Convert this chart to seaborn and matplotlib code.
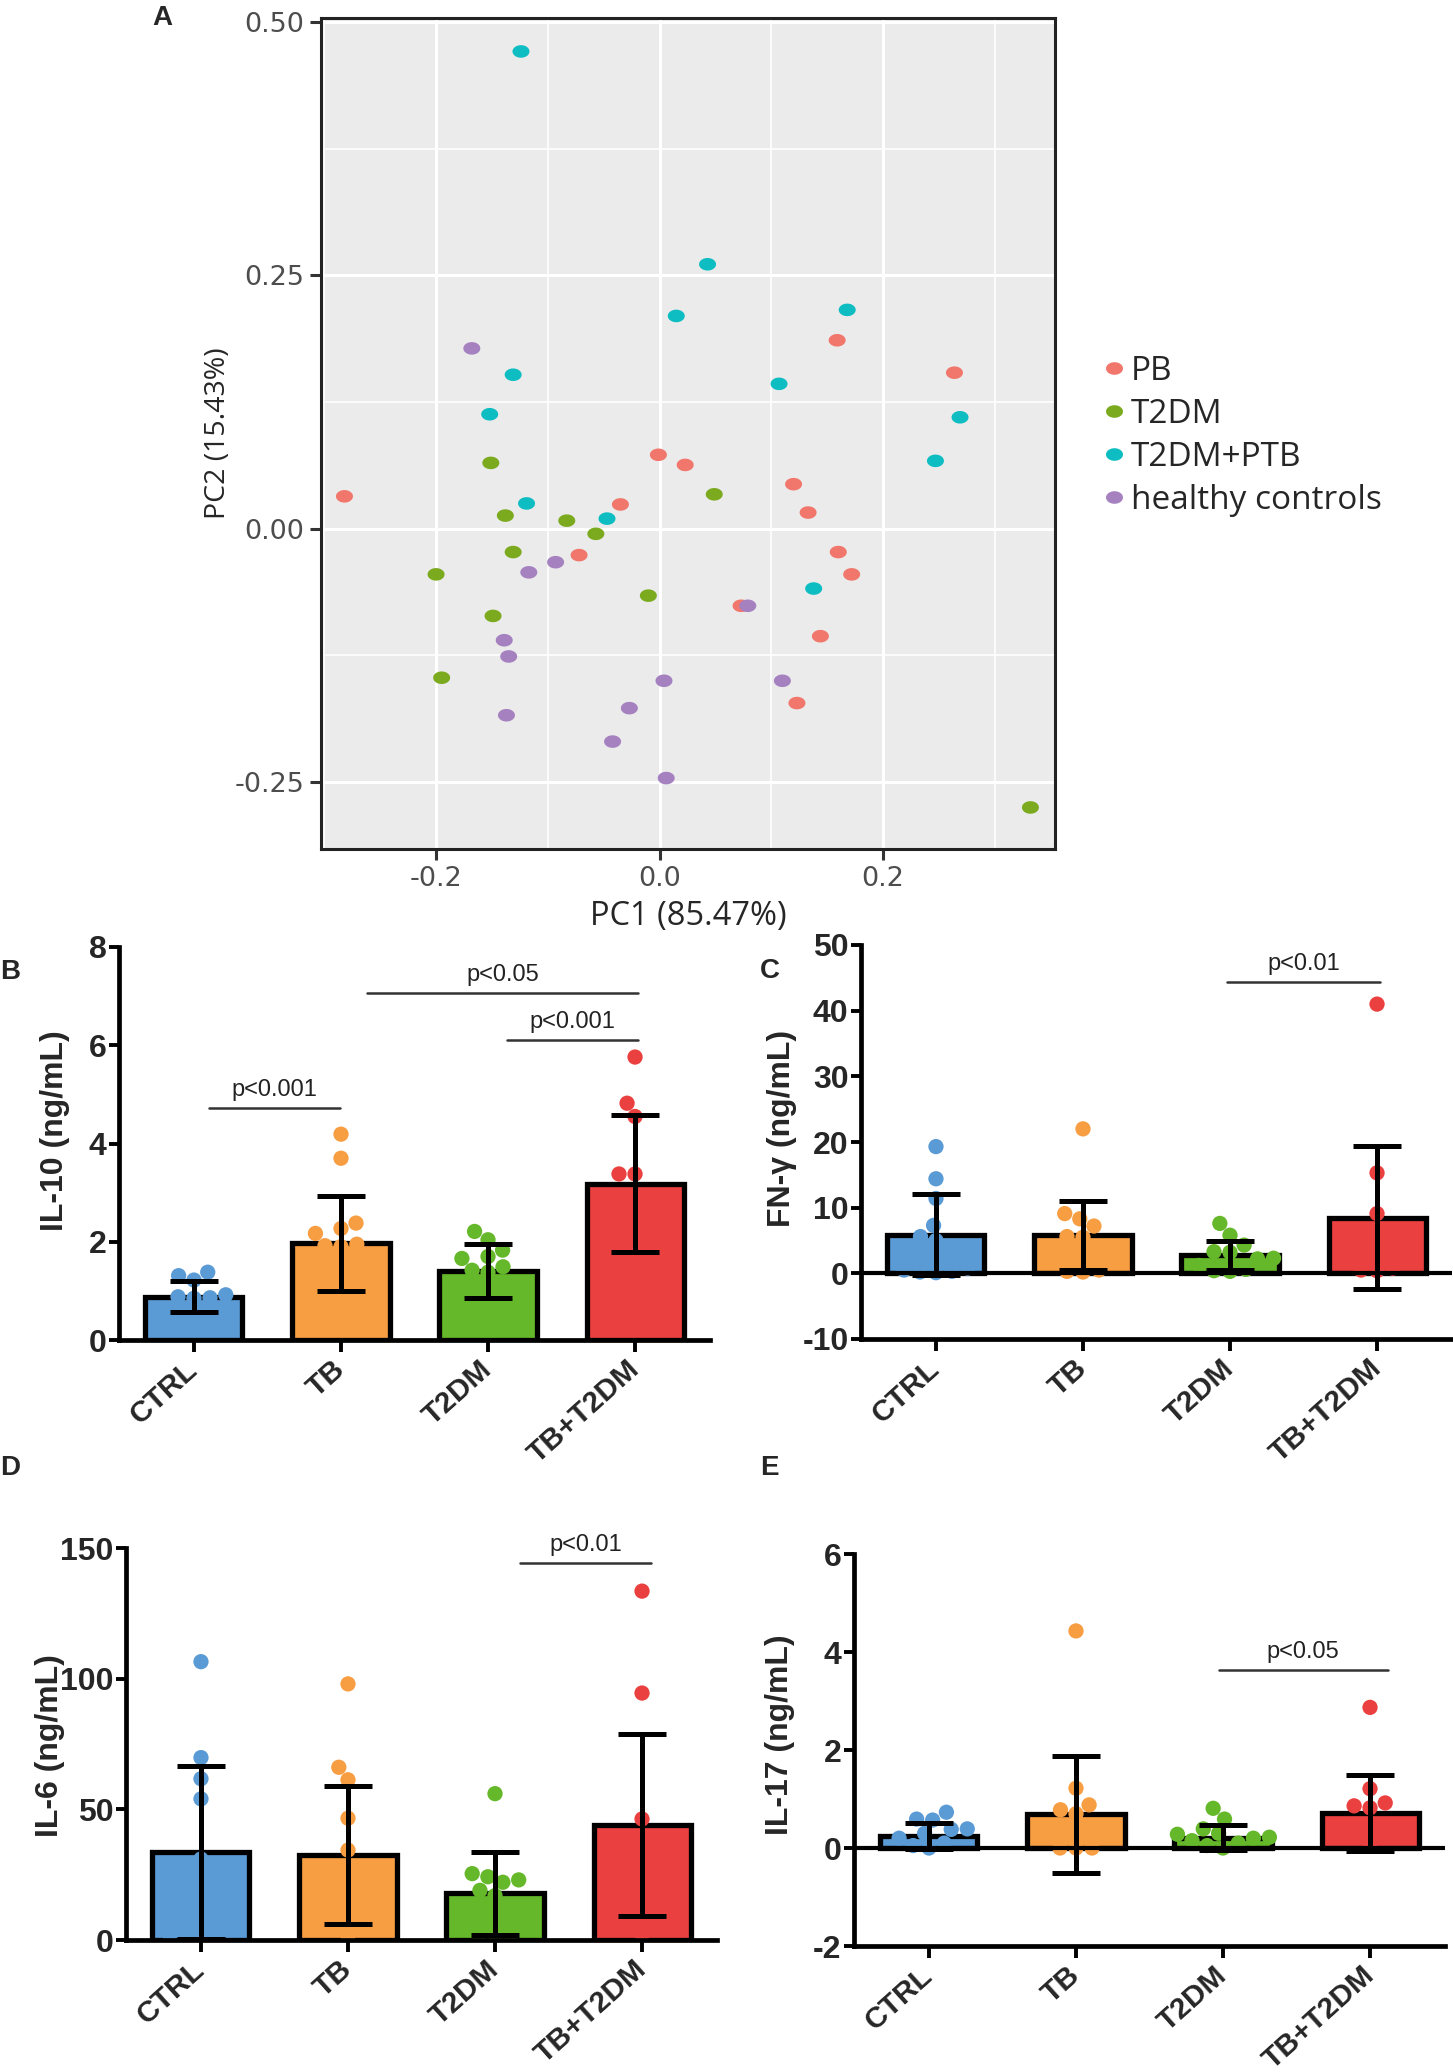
import numpy as np
import pandas as pd
import matplotlib
matplotlib.use("Agg")
import matplotlib.pyplot as plt
import matplotlib.transforms as mtransforms
from matplotlib.path import Path
from matplotlib.ticker import FormatStrFormatter
import seaborn as sns

# ---- Panel A: PCA scores ----
pb_pc1 = [-0.282, -0.001, 0.023, -0.035, -0.072, 0.159, 0.264, 0.120, 0.133, 0.160, 0.172, 0.073, 0.144, 0.123]
pb_pc2 = [0.032, 0.073, 0.063, 0.024, -0.026, 0.186, 0.154, 0.044, 0.016, -0.023, -0.045, -0.076, -0.106, -0.172]
t2dm_pc1 = [-0.151, 0.049, -0.138, -0.083, -0.057, -0.131, -0.200, -0.010, -0.149, -0.195, 0.332]
t2dm_pc2 = [0.065, 0.034, 0.013, 0.008, -0.005, -0.023, -0.045, -0.066, -0.086, -0.147, -0.275]
ptb_pc1 = [-0.124, 0.043, 0.015, 0.168, -0.131, 0.107, -0.152, 0.269, 0.247, -0.119, -0.047, 0.138]
ptb_pc2 = [0.471, 0.261, 0.210, 0.216, 0.152, 0.143, 0.113, 0.110, 0.067, 0.025, 0.010, -0.059]
hc_pc1 = [-0.168, -0.093, -0.117, 0.079, -0.139, -0.135, 0.004, 0.110, -0.027, -0.137, -0.042, 0.006]
hc_pc2 = [0.178, -0.033, -0.043, -0.076, -0.110, -0.126, -0.150, -0.150, -0.177, -0.184, -0.210, -0.246]
pca_groups = ["PB", "T2DM", "T2DM+PTB", "healthy controls"]
pca_colors = ["#F1766B", "#7BAA1E", "#0DBDC2", "#A581C0"]

# ---- Panels B-E: cytokines ----
groups = ["CTRL", "TB", "T2DM", "TB+T2DM"]
group_colors = ["#5B9BD5", "#F79D42", "#66B82B", "#EA403F"]

il10_mean = [0.88, 1.97, 1.40, 3.18]
il10_sd = [0.32, 0.97, 0.55, 1.39]
il10_ctrl = [1.38, 1.31, 1.22, 0.92, 0.88, 0.85, 0.86, 0.60, 0.45, 0.35, 0.50]
il10_tb = [4.19, 3.70, 2.38, 2.27, 2.17, 1.95, 1.92, 1.90, 1.00, 0.60, 0.30]
il10_t2dm = [2.21, 2.04, 1.83, 1.70, 1.66, 1.49, 1.42, 1.38, 1.00, 0.80, 0.60, 0.90]
il10_tbt2dm = [5.76, 4.82, 4.55, 3.38, 3.38, 1.60, 0.90]

ifng_mean = [5.9, 5.8, 2.74, 8.44]
ifng_sd = [6.2, 5.25, 2.2, 10.9]
ifng_ctrl = [19.3, 14.4, 11.4, 7.3, 5.6, 5.0, 0.8, 0.5, 0.2, 0.1, 0.3]
ifng_tb = [22.0, 9.1, 8.3, 7.2, 5.6, 5.5, 2.0, 0.5, 0.3, 0.2]
ifng_t2dm = [7.6, 5.8, 4.3, 3.3, 3.2, 2.3, 2.2, 1.2, 0.6, 0.4, 0.3]
ifng_tbt2dm = [41.0, 15.3, 9.1, 2.0, 0.8, 0.5, 0.4]

il6_mean = [33.5, 32.7, 17.8, 44.0]
il6_sd = [33.0, 26.4, 16.0, 34.7]
il6_ctrl = [106.5, 69.8, 61.7, 54.0, 31.0, 20.0, 10.0, 2.0, 0.5, 0.0, 0.0]
il6_tb = [98.0, 66.1, 61.3, 46.6, 34.4, 10.0, 5.0, 0.0]
il6_t2dm = [56.0, 25.4, 24.2, 23.0, 22.1, 19.0, 17.0, 10.0, 5.0, 0.0, 0.0, 0.0]
il6_tbt2dm = [133.5, 94.5, 46.3, 20.0, 10.0, 5.0, 2.0]

il17_mean = [0.25, 0.69, 0.21, 0.71]
il17_sd = [0.27, 1.19, 0.25, 0.78]
il17_ctrl = [0.73, 0.59, 0.57, 0.39, 0.38, 0.30, 0.20, 0.10, 0.05, 0.0]
il17_tb = [4.43, 1.22, 0.88, 0.78, 0.70, 0.0, 0.0, 0.0]
il17_t2dm = [0.81, 0.59, 0.39, 0.30, 0.28, 0.22, 0.20, 0.15, 0.10, 0.05, 0.0]
il17_tbt2dm = [2.87, 1.21, 0.92, 0.86, 0.82, 0.10]

W, H = 1453, 2072
BOLD = "Liberation Sans"

sns.set_style("ticks")
plt.rcParams["font.family"] = ["DejaVu Sans"]
plt.rcParams["axes.unicode_minus"] = False

fig = plt.figure(figsize=(W / 100, H / 100), dpi=100)


def px_axes(left, top, right, bottom):
    return fig.add_axes([left / W, 1 - bottom / H, (right - left) / W, (bottom - top) / H])


# ---------------- Panel A ----------------
pca_df = pd.DataFrame({
    "PC1": pb_pc1 + t2dm_pc1 + ptb_pc1 + hc_pc1,
    "PC2": pb_pc2 + t2dm_pc2 + ptb_pc2 + hc_pc2,
    "group": ([pca_groups[0]] * len(pb_pc1) + [pca_groups[1]] * len(t2dm_pc1)
              + [pca_groups[2]] * len(ptb_pc1) + [pca_groups[3]] * len(hc_pc1)),
})

theta = np.linspace(0, 2 * np.pi, 41)
ellipse = Path(np.column_stack([np.cos(theta), 0.74 * np.sin(theta)]), closed=True)

axA = px_axes(321, 18, 1055, 849)
axA.set_facecolor("#EBEBEB")
sns.scatterplot(data=pca_df, x="PC1", y="PC2", hue="group", hue_order=pca_groups,
                palette=pca_colors, marker=ellipse, s=150, linewidth=0, ax=axA, zorder=3)
axA.set_xlim(-0.303, 0.354)
axA.set_ylim(-0.316, 0.504)
axA.set_xticks([-0.2, 0.0, 0.2])
axA.set_xticks([-0.3, -0.1, 0.1, 0.3], minor=True)
axA.set_yticks([-0.25, 0.0, 0.25, 0.5])
axA.set_yticks([-0.125, 0.125, 0.375], minor=True)
axA.xaxis.set_major_formatter(FormatStrFormatter("%.1f"))
axA.yaxis.set_major_formatter(FormatStrFormatter("%.2f"))
axA.grid(which="major", color="white", lw=2.2)
axA.grid(which="minor", color="white", lw=1.2)
axA.set_axisbelow(True)
axA.tick_params(which="minor", length=0)
axA.tick_params(which="major", length=8, width=2.2, color="#333333",
                labelsize=19.5, labelcolor="#4D4D4D", pad=4)
for sp in axA.spines.values():
    sp.set_visible(True)
    sp.set_linewidth(2.2)
    sp.set_color("#222222")
axA.set_xlabel("PC1 (85.47%)", fontsize=23.5, family="Open Sans", labelpad=6)
axA.set_ylabel("PC2 (15.43%)", fontsize=20.5, family="Open Sans", labelpad=2)
sns.move_legend(axA, "center left", bbox_to_anchor=(1106 / W, 1 - 436 / H),
                bbox_transform=fig.transFigure, frameon=False, title=None,
                prop={"family": "Open Sans", "size": 24}, handlelength=0.45,
                handletextpad=0.3, labelspacing=0.3, borderpad=0, borderaxespad=0)


# ---------------- Panels B-E ----------------
def bar_panel(ax, means, sds, values, ylim, yticks, ylabel, sig, label_xy, zero_line=False):
    pts = pd.DataFrame({
        "group": [g for g, v in zip(groups, values) for _ in v],
        "value": [x for v in values for x in v],
    })
    bars = pd.DataFrame({"group": groups, "mean": means})
    sns.barplot(data=bars, x="group", y="mean", hue="group", order=groups, hue_order=groups,
                palette=group_colors, saturation=1, errorbar=None, width=0.66,
                edgecolor="black", linewidth=3.8, legend=False, ax=ax, zorder=1)
    ax.set_xlim(-0.51, 3.51)
    ax.set_ylim(*ylim)
    sns.swarmplot(data=pts, x="group", y="value", hue="group", order=groups, hue_order=groups,
                  palette=group_colors, size=11, linewidth=0, legend=False, ax=ax, zorder=2)
    ax.errorbar(range(4), means, yerr=sds, fmt="none", ecolor="black", elinewidth=3.6,
                capsize=17, capthick=3.6, zorder=4)
    if zero_line:
        ax.axhline(0, color="black", lw=3, zorder=5)
    for x1, x2, y, txt in sig:
        ax.plot([x1, x2], [y, y], color="#333333", lw=1.8, zorder=5, clip_on=False)
        ax.annotate(txt, xy=((x1 + x2) / 2, y), xytext=(0, 5), textcoords="offset points",
                    ha="center", va="bottom", fontsize=17, family=BOLD, color="#222222")
    ax.set_xlim(-0.51, 3.51)
    ax.set_ylim(*ylim)
    ax.set_yticks(yticks, labels=[f"{v:g}" for v in yticks], fontsize=23,
                  fontweight="bold", family=BOLD)
    ax.set_xticks(range(4), labels=groups, fontsize=21.5, fontweight="bold", family=BOLD,
                  rotation=42, ha="right", va="center", rotation_mode="anchor")
    shift = mtransforms.ScaledTranslation(8 / 72, 0, fig.dpi_scale_trans)
    for lbl in ax.get_xticklabels():
        lbl.set_transform(lbl.get_transform() + shift)
    ax.tick_params(axis="y", length=7, width=2.8, pad=2, color="black")
    ax.tick_params(axis="x", length=8.5, width=2.8, pad=10, color="black")
    for side in ["top", "right"]:
        ax.spines[side].set_visible(False)
    for side in ["left", "bottom"]:
        ax.spines[side].set_linewidth(3.4)
        ax.spines[side].set_color("black")
        ax.spines[side].set_zorder(6)
    ax.set_xlabel("")
    ax.set_ylabel(ylabel, fontsize=23, fontweight="bold", family=BOLD)
    ax.yaxis.set_label_coords(*label_xy)


axB = px_axes(119, 947, 710, 1340)
bar_panel(axB, il10_mean, il10_sd, [il10_ctrl, il10_tb, il10_t2dm, il10_tbt2dm],
          (0, 8), [0, 2, 4, 6, 8], "IL-10 (ng/mL)",
          [(0.10, 0.99, 4.72, "p<0.001"), (1.18, 3.02, 7.07, "p<0.05"),
           (2.13, 3.02, 6.11, "p<0.001")], (-0.083, 0.532))

axC = px_axes(861, 945, 1452, 1339)
bar_panel(axC, ifng_mean, ifng_sd, [ifng_ctrl, ifng_tb, ifng_t2dm, ifng_tbt2dm],
          (-10, 50), [-10, 0, 10, 20, 30, 40, 50], "FN-γ (ng/mL)",
          [(1.98, 3.02, 44.4, "p<0.01")], (-0.108, 0.535), zero_line=True)

axD = px_axes(126, 1548, 717, 1940)
bar_panel(axD, il6_mean, il6_sd, [il6_ctrl, il6_tb, il6_t2dm, il6_tbt2dm],
          (0, 150), [0, 50, 100, 150], "IL-6 (ng/mL)",
          [(2.17, 3.06, 144.3, "p<0.01")], (-0.103, 0.495))

axE = px_axes(854, 1554, 1445, 1946)
bar_panel(axE, il17_mean, il17_sd, [il17_ctrl, il17_tb, il17_t2dm, il17_tbt2dm],
          (-2, 6), [-2, 0, 2, 4, 6], "IL-17 (ng/mL)",
          [(1.97, 3.12, 3.63, "p<0.05")], (-0.100, 0.538), zero_line=True)

# panel letters
for letter, x, y in [("A", 152, 18), ("B", 0, 972), ("C", 760, 971),
                     ("D", 0, 1468), ("E", 760, 1468)]:
    fig.text(x / W, 1 - y / H, letter, fontsize=20, fontweight="bold", family=BOLD,
             ha="left", va="center")

fig.savefig("out.png", dpi=100)
